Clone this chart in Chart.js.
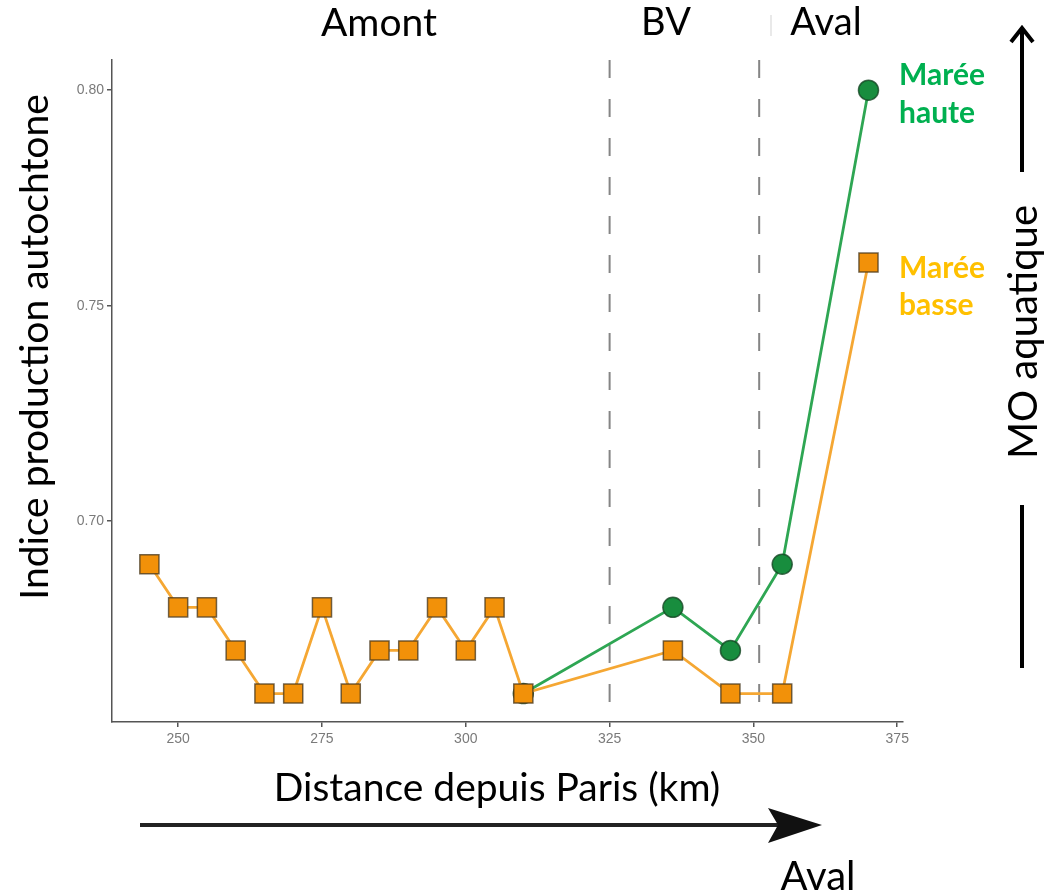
<!DOCTYPE html>
<html>
<head>
<meta charset="utf-8">
<script src="https://cdn.jsdelivr.net/npm/chart.js@4.4.1/dist/chart.umd.min.js"></script>
<style>
  body { margin: 0; background: #fff; }
  #wrap { width: 1050px; height: 894px; }
</style>
</head>
<body>
<div id="wrap"><canvas id="chartIndice" width="1050" height="894"></canvas></div>
<script>
/* données */
const kmBasse = [245, 250, 255, 260, 265, 270, 275, 280, 285, 290, 295, 300, 305, 310, 336, 346, 355, 370];
const indiceBasse = [0.69, 0.68, 0.68, 0.67, 0.66, 0.66, 0.68, 0.66, 0.67, 0.67, 0.68, 0.67, 0.68, 0.66, 0.67, 0.66, 0.66, 0.76];
const kmHaute = [310, 336, 346, 355, 370];
const indiceHaute = [0.66, 0.68, 0.67, 0.69, 0.80];
const xTicks = [250, 275, 300, 325, 350, 375];
const yTicks = [0.70, 0.75, 0.80];
const limitesZones = [325, 351];

function toPoints(xs, ys) {
  return xs.map(function (x, i) { return { x: x, y: ys[i] }; });
}

const FONT = 'Lato, "Open Sans", sans-serif';

function txt(ctx, s, x, y, size, color, opts) {
  opts = opts || {};
  ctx.save();
  ctx.fillStyle = color;
  ctx.font = (opts.bold ? 'bold ' : '') + size + 'px ' + FONT;
  ctx.textAlign = opts.align || 'center';
  ctx.textBaseline = 'middle';
  ctx.translate(x, y);
  if (opts.rotate) ctx.rotate(opts.rotate);
  ctx.fillText(s, 0, 0);
  ctx.restore();
}

const zonesPlugin = {
  id: 'zones',
  beforeDatasetsDraw: function (chart) {
    const ctx = chart.ctx;
    const area = chart.chartArea;
    ctx.save();
    ctx.strokeStyle = '#858585';
    ctx.lineWidth = 2;
    ctx.setLineDash([18, 21]);
    limitesZones.forEach(function (km) {
      const px = chart.scales.x.getPixelForValue(km);
      ctx.beginPath();
      ctx.moveTo(px, area.top);
      ctx.lineTo(px, area.bottom);
      ctx.stroke();
    });
    ctx.restore();
  },
  afterDraw: function (chart) {
    const ctx = chart.ctx;
    // titres des zones
    txt(ctx, 'Amont', 379, 23, 39, '#000');
    txt(ctx, 'BV', 666, 23, 38, '#000');
    txt(ctx, 'Aval', 826, 23, 38, '#000');
    ctx.save();
    ctx.strokeStyle = '#e2e2e2';
    ctx.lineWidth = 1.5;
    ctx.beginPath();
    ctx.moveTo(771, 15);
    ctx.lineTo(771, 36);
    ctx.stroke();
    ctx.restore();

    // titres des axes
    txt(ctx, 'Indice production autochtone', 35, 347, 39, '#000', { rotate: -Math.PI / 2 });
    txt(ctx, 'Distance depuis Paris (km)', 497, 788, 39, '#000');

    // légende
    txt(ctx, 'Marée', 899, 75, 30, '#00B050', { bold: true, align: 'left' });
    txt(ctx, 'haute', 899, 113, 30, '#00B050', { bold: true, align: 'left' });
    txt(ctx, 'Marée', 899, 268, 30, '#FFC000', { bold: true, align: 'left' });
    txt(ctx, 'basse', 899, 305, 30, '#FFC000', { bold: true, align: 'left' });

    // flèche MO aquatique
    ctx.save();
    ctx.strokeStyle = '#000';
    ctx.lineWidth = 4;
    ctx.beginPath();
    ctx.moveTo(1022, 172);
    ctx.lineTo(1022, 28);
    ctx.moveTo(1011, 42);
    ctx.lineTo(1022, 28);
    ctx.lineTo(1033, 42);
    ctx.moveTo(1022, 505);
    ctx.lineTo(1022, 668);
    ctx.stroke();
    ctx.restore();
    txt(ctx, 'MO aquatique', 1024, 332, 40, '#000', { rotate: -Math.PI / 2 });

    // flèche vers l'aval
    ctx.save();
    ctx.strokeStyle = '#222';
    ctx.fillStyle = '#111';
    ctx.lineWidth = 4;
    ctx.beginPath();
    ctx.moveTo(140, 825);
    ctx.lineTo(780, 825);
    ctx.stroke();
    ctx.beginPath();
    ctx.moveTo(822, 825);
    ctx.lineTo(768, 808);
    ctx.lineTo(778, 825);
    ctx.lineTo(768, 843);
    ctx.closePath();
    ctx.fill();
    ctx.restore();
    txt(ctx, 'Aval', 818, 877, 40, '#000');
  }
};

const chart = new Chart(document.getElementById('chartIndice'), {
  type: 'line',
  data: {
    datasets: [
      {
        label: 'Marée basse',
        data: toPoints(kmBasse, indiceBasse),
        borderColor: '#F5A733',
        borderWidth: 2.8,
        pointStyle: 'rect',
        pointRadius: 13.5,
        pointBackgroundColor: '#F29109',
        pointBorderColor: 'rgba(70,55,30,0.75)',
        pointBorderWidth: 1.5,
        tension: 0,
      },
      {
        label: 'Marée haute',
        data: toPoints(kmHaute, indiceHaute),
        borderColor: '#2EA653',
        borderWidth: 2.8,
        pointStyle: 'circle',
        pointRadius: 10,
        pointBackgroundColor: '#188D3E',
        pointBorderColor: 'rgba(20,70,35,0.8)',
        pointBorderWidth: 1.5,
        tension: 0,
      },
    ],
  },
  options: {
    responsive: false,
    animation: false,
    layout: {
      padding: { left: 0, top: 60, right: 147, bottom: 0 },
    },
    plugins: {
      legend: { display: false },
      tooltip: { enabled: false },
    },
    scales: {
      x: {
        type: 'linear',
        min: 238.5,
        max: 376,
        afterFit: function (scale) { scale.height = 172; },
        afterBuildTicks: function (scale) {
          scale.ticks = xTicks.map(function (v) { return { value: v }; });
        },
        border: { display: true, color: '#555', width: 1.5 },
        grid: { display: true, drawOnChartArea: false, drawTicks: true, tickLength: 5, color: '#555', lineWidth: 1.5 },
        ticks: {
          color: '#7a7a7a',
          padding: 4,
          maxRotation: 0,
          font: { size: 14, family: '"Liberation Sans", Arial, sans-serif' },
        },
      },
      y: {
        min: 0.6534,
        max: 0.807,
        afterFit: function (scale) { scale.width = 112; },
        afterBuildTicks: function (scale) {
          scale.ticks = yTicks.map(function (v) { return { value: v }; });
        },
        border: { display: true, color: '#555', width: 1.5 },
        grid: { display: true, drawOnChartArea: false, drawTicks: true, tickLength: 5, color: '#555', lineWidth: 1.5 },
        ticks: {
          color: '#7a7a7a',
          padding: 3,
          font: { size: 14, family: '"Liberation Sans", Arial, sans-serif' },
          callback: function (v) { return v.toFixed(2); },
        },
      },
    },
  },
  plugins: [zonesPlugin],
});
</script>
</body>
</html>
